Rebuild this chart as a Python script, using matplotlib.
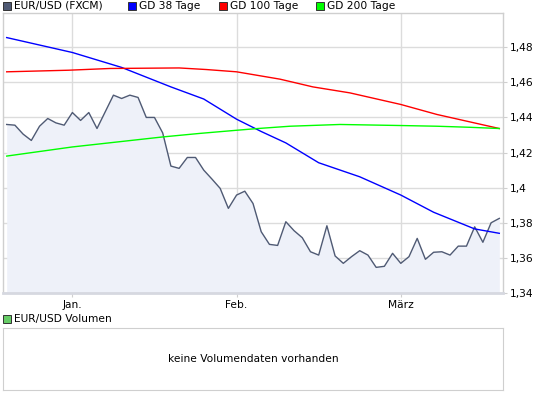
import numpy as np
import matplotlib.pyplot as plt
from matplotlib.patches import Rectangle
# EUR/USD chart with moving averages and an empty volume panel

# price points (one every ~1.5 days), Jan/Feb/Maerz fall on index 8/28/48
priceVals = [1.436, 1.4356, 1.4305, 1.4269, 1.435, 1.4394, 1.4369, 1.4356, 1.4428, 1.4383,
             1.4428, 1.4337, 1.4432, 1.4527, 1.4508, 1.4527, 1.4514, 1.440, 1.440, 1.4312,
             1.4123, 1.411, 1.4172, 1.4172, 1.410, 1.4049, 1.3996, 1.3882, 1.3958, 1.398,
             1.391, 1.3749, 1.3677, 1.3671, 1.3806, 1.3755, 1.3715, 1.3635, 1.3616, 1.3783,
             1.3611, 1.3569, 1.3607, 1.3641, 1.3616, 1.3546, 1.3552, 1.3626, 1.3569, 1.3607,
             1.3711, 1.3592, 1.3632, 1.3635, 1.3616, 1.3667, 1.3667, 1.3777, 1.3689, 1.380,
             1.3825]

gd38Idx = [0, 8, 14, 20, 24, 28, 31, 34, 38, 43, 48, 52, 57, 60]
gd38Vals = [1.4855, 1.477, 1.4685, 1.4574, 1.4505, 1.439, 1.432, 1.4255, 1.4142, 1.4062,
            1.3958, 1.386, 1.3765, 1.374]

gd100Idx = [0, 7.5, 12.6, 21, 24.3, 28, 33.3, 37.3, 41.8, 48, 52.4, 60]
gd100Vals = [1.466, 1.4669, 1.4679, 1.4682, 1.4673, 1.466, 1.4618, 1.4574, 1.454, 1.4474,
             1.4417, 1.4337]

gd200Idx = [0, 8, 19, 23.5, 28, 30.6, 34.5, 40.6, 48, 52.4, 56.4, 60]
gd200Vals = [1.418, 1.4232, 1.4289, 1.4309, 1.4327, 1.4337, 1.435, 1.436, 1.4354, 1.435,
             1.4344, 1.4337]

monthIdx = [8, 28, 48]
monthLabels = ["Jan.", "Feb.", "März"]
yTicks = [1.34, 1.36, 1.38, 1.40, 1.42, 1.44, 1.46, 1.48]
yTickLabels = ["1,34", "1,36", "1,38", "1,4", "1,42", "1,44", "1,46", "1,48"]

legendItems = [("EUR/USD (FXCM)", "#4f5a74", 3), ("GD 38 Tage", "#0000ff", 128),
               ("GD 100 Tage", "#ff0000", 219), ("GD 200 Tage", "#00ff00", 316)]

W, H = 545, 395
plt.rcParams['font.family'] = ['DejaVu Sans']
fontSize = 7.7
gridCol = "#dcdcdc"
frameCol = "#cfcfcf"


def pxAxes(fig, left, top, right, bottom):
    """make an axes from pixel coords (top-left origin)"""
    return fig.add_axes([left / W, 1 - bottom / H, (right - left) / W, (bottom - top) / H])


def legendBox(fig, x, yCenter, color, text):
    fig.patches.append(Rectangle((x / W, 1 - (yCenter + 4) / H), 8 / W, 8 / H,
                                 transform=fig.transFigure, facecolor=color,
                                 edgecolor="#333333", linewidth=0.7))
    fig.text((x + 11) / W, 1 - yCenter / H, text, fontsize=fontSize, va="center", ha="left")


fig = plt.figure(figsize=(W / 100, H / 100), dpi=100)

# main price panel
ax = pxAxes(fig, 3, 13, 503, 293)
xs = np.arange(len(priceVals))
ax.fill_between(xs, priceVals, 1.3, color="#eef1f9", linewidth=0)
ax.plot(xs, priceVals, color="#4f5a74", linewidth=1.0)
ax.plot(gd38Idx, gd38Vals, color="#0000ff", linewidth=1.0)
ax.plot(gd100Idx, gd100Vals, color="#ff0000", linewidth=1.0)
ax.plot(gd200Idx, gd200Vals, color="#00ff00", linewidth=1.0)

ax.set_xlim(-0.45, 60.45)
ax.set_ylim(1.34, 1.4995)
ax.set_xticks(monthIdx)
ax.set_xticklabels(monthLabels, fontsize=fontSize)
ax.set_yticks(yTicks)
ax.set_yticklabels(yTickLabels, fontsize=fontSize)
ax.yaxis.tick_right()
ax.tick_params(axis="both", length=3, color=frameCol, pad=2)
ax.grid(True, color=gridCol, linewidth=1.0)
ax.set_axisbelow(True)
for side in ax.spines:
    ax.spines[side].set_color(frameCol)
    ax.spines[side].set_linewidth(1.0)
ax.spines["bottom"].set_linewidth(2.0)
ax.spines["bottom"].set_color("#d6d8e0")

for text, color, x in legendItems:
    legendBox(fig, x, 6, color, text)

# volume panel, no data
legendBox(fig, 3, 319, "#66cc66", "EUR/USD Volumen")
volAx = pxAxes(fig, 3, 328, 503, 390)
volAx.set_xticks([])
volAx.set_yticks([])
for side in volAx.spines:
    volAx.spines[side].set_color(frameCol)
volAx.text(0.5, 0.5, "keine Volumendaten vorhanden", transform=volAx.transAxes,
           ha="center", va="center", fontsize=fontSize)

fig.savefig("out.png", dpi=100)
